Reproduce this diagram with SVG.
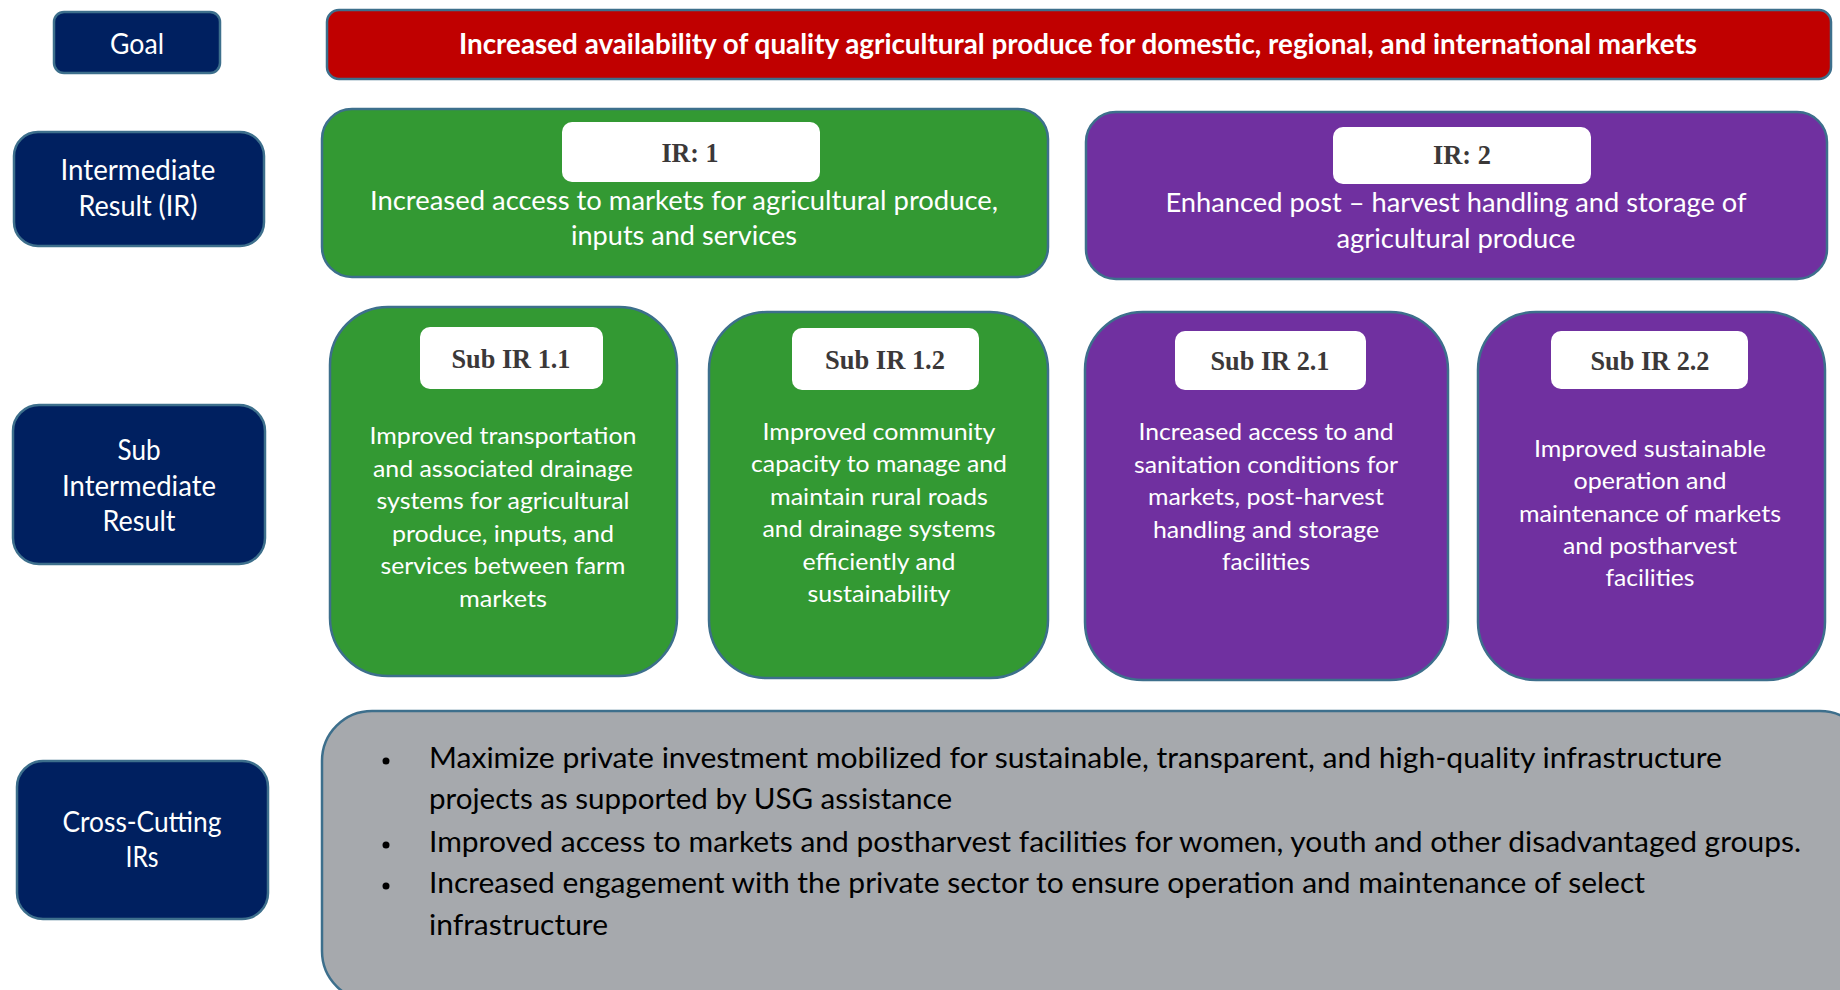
<svg xmlns="http://www.w3.org/2000/svg" width="1840" height="990" viewBox="0 0 1840 990">
  <style>
    .box { stroke: #3d6f8c; stroke-width: 2.5; }
    .navy { fill: #002060; }
    .red { fill: #c00000; }
    .green { fill: #339933; }
    .purple { fill: #7030a0; }
    .grey { fill: #a6a9ad; }
    .tag { fill: #ffffff; }
    .side { font-family: Lato, "Liberation Sans", sans-serif; font-size: 28px; fill: #ffffff; text-anchor: middle; }
    .goal { font-family: Lato, "Liberation Sans", sans-serif; font-size: 28px; font-weight: bold; fill: #ffffff; text-anchor: middle; }
    .ir { font-family: Lato, "Liberation Sans", sans-serif; font-size: 26.5px; fill: #ffffff; text-anchor: middle; }
    .sub { font-family: Lato, "Liberation Sans", sans-serif; font-size: 24px; fill: #ffffff; text-anchor: middle; }
    .lbl { font-family: "Liberation Serif", "Times New Roman", serif; font-size: 28px; font-weight: bold; fill: #3b3838; text-anchor: middle; }
    .bul { font-family: Lato, "Liberation Sans", sans-serif; font-size: 28px; fill: #000000; }
  </style>

  <rect width="1840" height="990" fill="#ffffff"/>

  <!-- Row headers -->
  <g id="hdr-goal">
    <rect class="box navy" x="54" y="12" width="166" height="61" rx="10"/>
    <text class="side" x="137" y="54" textLength="54" lengthAdjust="spacingAndGlyphs">Goal</text>
  </g>
  <g id="hdr-ir">
    <rect class="box navy" x="14" y="132" width="250" height="114" rx="24"/>
    <text class="side" x="138" y="180" textLength="155" lengthAdjust="spacingAndGlyphs">Intermediate</text>
    <text class="side" x="138" y="216" textLength="119" lengthAdjust="spacingAndGlyphs">Result (IR)</text>
  </g>
  <g id="hdr-sub">
    <rect class="box navy" x="13" y="405" width="252" height="159" rx="26"/>
    <text class="side" x="139" y="460" textLength="43" lengthAdjust="spacingAndGlyphs">Sub</text>
    <text class="side" x="139" y="496" textLength="154" lengthAdjust="spacingAndGlyphs">Intermediate</text>
    <text class="side" x="139" y="531" textLength="73" lengthAdjust="spacingAndGlyphs">Result</text>
  </g>
  <g id="hdr-cross">
    <rect class="box navy" x="17" y="761" width="251" height="158" rx="26"/>
    <text class="side" x="142" y="832" textLength="159" lengthAdjust="spacingAndGlyphs">Cross-Cutting</text>
    <text class="side" x="142" y="867" textLength="33" lengthAdjust="spacingAndGlyphs">IRs</text>
  </g>

  <!-- Goal statement -->
  <g id="goal">
    <rect class="box red" x="327" y="10" width="1504" height="69" rx="12"/>
    <text class="goal" x="1078" y="54" textLength="1238" lengthAdjust="spacingAndGlyphs">Increased availability of quality agricultural produce for domestic, regional, and international markets</text>
  </g>

  <!-- Intermediate results -->
  <g id="ir1">
    <rect class="box green" x="322" y="109" width="726" height="168" rx="30"/>
    <rect class="tag" x="562" y="122" width="258" height="60" rx="10"/>
    <text class="lbl" x="690" y="162" textLength="57" lengthAdjust="spacingAndGlyphs">IR: 1</text>
    <text class="ir" x="684" y="210" textLength="628" lengthAdjust="spacingAndGlyphs">Increased access to markets for agricultural produce,</text>
    <text class="ir" x="684" y="245" textLength="226" lengthAdjust="spacingAndGlyphs">inputs and services</text>
  </g>
  <g id="ir2">
    <rect class="box purple" x="1086" y="112" width="741" height="167" rx="30"/>
    <rect class="tag" x="1333" y="127" width="258" height="57" rx="10"/>
    <text class="lbl" x="1462" y="164" textLength="58" lengthAdjust="spacingAndGlyphs">IR: 2</text>
    <text class="ir" x="1456" y="212" textLength="581" lengthAdjust="spacingAndGlyphs">Enhanced post – harvest handling and storage of</text>
    <text class="ir" x="1456" y="248" textLength="239" lengthAdjust="spacingAndGlyphs">agricultural produce</text>
  </g>

  <!-- Sub intermediate results -->
  <g id="sub-ir-1-1">
    <rect class="box green" x="330" y="307" width="347" height="369" rx="58"/>
    <rect class="tag" x="420" y="327" width="183" height="62" rx="10"/>
    <text class="lbl" x="511" y="368" textLength="119" lengthAdjust="spacingAndGlyphs">Sub IR 1.1</text>
    <text class="sub" x="503" y="444" textLength="267" lengthAdjust="spacingAndGlyphs">Improved transportation</text>
    <text class="sub" x="503" y="476.5" textLength="260" lengthAdjust="spacingAndGlyphs">and associated drainage</text>
    <text class="sub" x="503" y="509" textLength="253" lengthAdjust="spacingAndGlyphs">systems for agricultural</text>
    <text class="sub" x="503" y="541.5" textLength="222" lengthAdjust="spacingAndGlyphs">produce, inputs, and</text>
    <text class="sub" x="503" y="574" textLength="245" lengthAdjust="spacingAndGlyphs">services between farm</text>
    <text class="sub" x="503" y="606.5" textLength="88" lengthAdjust="spacingAndGlyphs">markets</text>
  </g>
  <g id="sub-ir-1-2">
    <rect class="box green" x="709" y="312" width="339" height="366" rx="58"/>
    <rect class="tag" x="792" y="328" width="187" height="62" rx="10"/>
    <text class="lbl" x="885" y="369" textLength="120" lengthAdjust="spacingAndGlyphs">Sub IR 1.2</text>
    <text class="sub" x="879" y="440" textLength="233" lengthAdjust="spacingAndGlyphs">Improved community</text>
    <text class="sub" x="879" y="472.4" textLength="256" lengthAdjust="spacingAndGlyphs">capacity to manage and</text>
    <text class="sub" x="879" y="504.8" textLength="218" lengthAdjust="spacingAndGlyphs">maintain rural roads</text>
    <text class="sub" x="879" y="537.2" textLength="233" lengthAdjust="spacingAndGlyphs">and drainage systems</text>
    <text class="sub" x="879" y="569.6" textLength="153" lengthAdjust="spacingAndGlyphs">efficiently and</text>
    <text class="sub" x="879" y="602" textLength="143" lengthAdjust="spacingAndGlyphs">sustainability</text>
  </g>
  <g id="sub-ir-2-1">
    <rect class="box purple" x="1085" y="312" width="363" height="368" rx="58"/>
    <rect class="tag" x="1175" y="331" width="191" height="59" rx="10"/>
    <text class="lbl" x="1270" y="370" textLength="119" lengthAdjust="spacingAndGlyphs">Sub IR 2.1</text>
    <text class="sub" x="1266" y="440" textLength="255" lengthAdjust="spacingAndGlyphs">Increased access to and</text>
    <text class="sub" x="1266" y="472.5" textLength="264" lengthAdjust="spacingAndGlyphs">sanitation conditions for</text>
    <text class="sub" x="1266" y="505" textLength="236" lengthAdjust="spacingAndGlyphs">markets, post-harvest</text>
    <text class="sub" x="1266" y="537.5" textLength="226" lengthAdjust="spacingAndGlyphs">handling and storage</text>
    <text class="sub" x="1266" y="570" textLength="88" lengthAdjust="spacingAndGlyphs">facilities</text>
  </g>
  <g id="sub-ir-2-2">
    <rect class="box purple" x="1478" y="312" width="347" height="368" rx="58"/>
    <rect class="tag" x="1551" y="331" width="197" height="58" rx="10"/>
    <text class="lbl" x="1650" y="370" textLength="119" lengthAdjust="spacingAndGlyphs">Sub IR 2.2</text>
    <text class="sub" x="1650" y="457" textLength="232" lengthAdjust="spacingAndGlyphs">Improved sustainable</text>
    <text class="sub" x="1650" y="489" textLength="153" lengthAdjust="spacingAndGlyphs">operation and</text>
    <text class="sub" x="1650" y="521.5" textLength="262" lengthAdjust="spacingAndGlyphs">maintenance of markets</text>
    <text class="sub" x="1650" y="553.5" textLength="174" lengthAdjust="spacingAndGlyphs">and postharvest</text>
    <text class="sub" x="1650" y="586" textLength="89" lengthAdjust="spacingAndGlyphs">facilities</text>
  </g>

  <!-- Cross-cutting results -->
  <g id="cross-cutting">
    <rect class="box grey" x="322" y="711" width="1548" height="290" rx="50"/>
    <circle cx="386" cy="761" r="3.5" fill="#000000"/>
    <circle cx="386" cy="845" r="3.5" fill="#000000"/>
    <circle cx="386" cy="886" r="3.5" fill="#000000"/>
    <text class="bul" x="429" y="768" textLength="1293" lengthAdjust="spacingAndGlyphs">Maximize private investment mobilized for sustainable, transparent, and high-quality infrastructure</text>
    <text class="bul" x="429" y="809" textLength="523" lengthAdjust="spacingAndGlyphs">projects as supported by USG assistance</text>
    <text class="bul" x="429" y="852" textLength="1372" lengthAdjust="spacingAndGlyphs">Improved access to markets and postharvest facilities for women, youth and other disadvantaged groups.</text>
    <text class="bul" x="429" y="893" textLength="1216" lengthAdjust="spacingAndGlyphs">Increased engagement with the private sector to ensure operation and maintenance of select</text>
    <text class="bul" x="429" y="935" textLength="179" lengthAdjust="spacingAndGlyphs">infrastructure</text>
  </g>
</svg>
